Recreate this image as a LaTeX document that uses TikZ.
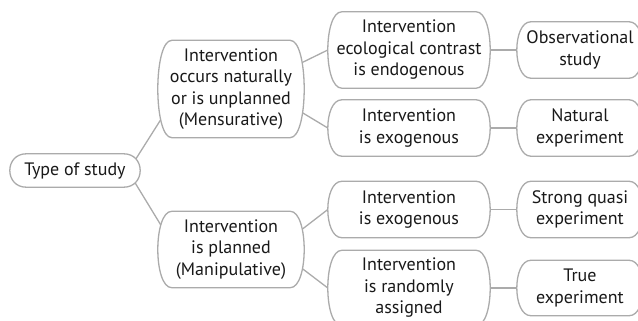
\documentclass[tikz,border=0pt]{standalone}
\usepackage{fontspec}
\setmainfont{PT Sans}
\pgfdeclarelayer{links}
\pgfdeclarelayer{shapes}
\pgfsetlayers{links,shapes,main}
\colorlet{linegray}{black!33}

\begin{document}
\begin{tikzpicture}[x=1pt,y=-1pt,
  box/.style={align=center, inner sep=0pt, text=black!90,
    font=\fontsize{18}{21.5}\selectfont},
  line/.style={draw=linegray, line width=1.3pt},
  link/.style={line, shorten <=-3pt, shorten >=-3pt}]

  \newcommand\roundbox[2]{%
    \draw[line, fill=white] ([xshift=#2]#1.north west) -- ([xshift=-#2]#1.north east)
      .. controls ([xshift=#2/3]#1.north east) and ([xshift=#2/3]#1.south east) .. ([xshift=-#2]#1.south east)
      -- ([xshift=#2]#1.south west)
      .. controls ([xshift=-#2/3]#1.south west) and ([xshift=-#2/3]#1.north west) .. cycle;}

  \clip (0,0) rectangle (638,321);

  \node[box, minimum width=130pt, minimum height=33pt] (type) at (75,170.5) {Type of study};

  \node[box, minimum width=146pt, minimum height=97pt] (mens) at (231,89) {Intervention\\occurs naturally\\or is unplanned\\(Mensurative)};
  \node[box, minimum width=146pt, minimum height=76pt] (manip) at (231,249.5) {Intervention\\is planned\\(Manipulative)};

  \node[box, minimum width=162pt, minimum height=76pt] (endo) at (409,50) {Intervention\\ecological contrast\\is endogenous};
  \node[box, minimum width=162pt, minimum height=56pt] (exoA) at (409,128) {Intervention\\is exogenous};
  \node[box, minimum width=162pt, minimum height=56pt] (exoB) at (409,209.5) {Intervention\\is exogenous};
  \node[box, minimum width=162pt, minimum height=75pt] (random) at (409,288) {Intervention\\is randomly\\assigned};

  \node[box, minimum width=126pt, minimum height=56pt] (obs) at (580,50) {Observational\\study};
  \node[box, minimum width=126pt, minimum height=56pt] (natural) at (580,128) {Natural\\experiment};
  \node[box, minimum width=126pt, minimum height=56pt] (quasi) at (580,209.5) {Strong quasi\\experiment};
  \node[box, minimum width=126pt, minimum height=55pt] (true) at (580,288) {True\\experiment};

  \begin{pgfonlayer}{shapes}
    \roundbox{type}{16.5pt}
    \roundbox{mens}{14pt}
    \roundbox{manip}{14pt}
    \roundbox{endo}{14pt}
    \roundbox{exoA}{14pt}
    \roundbox{exoB}{14pt}
    \roundbox{random}{14pt}
    \roundbox{obs}{14pt}
    \roundbox{natural}{14pt}
    \roundbox{quasi}{14pt}
    \roundbox{true}{14pt}
  \end{pgfonlayer}

  \begin{pgfonlayer}{links}
    \draw[link] ([shift={(-5pt,10.5pt)}]type.east) -- ([shift={(4pt,-29pt)}]mens.west);
    \draw[link] ([shift={(-5pt,-12.5pt)}]type.east) -- ([shift={(3pt,24.5pt)}]manip.west);

    \draw[link] ([shift={(-3pt,26pt)}]mens.east) -- (endo.west);
    \draw[link] ([shift={(-3pt,-23pt)}]mens.east) -- (exoA.west);
    \draw[link] ([shift={(-3pt,19.5pt)}]manip.east) -- (exoB.west);
    \draw[link] ([shift={(-4pt,-17.5pt)}]manip.east) -- (random.west);

    \draw[line] (endo.east) -- (obs.west);
    \draw[line] (exoA.east) -- (natural.west);
    \draw[line] (exoB.east) -- (quasi.west);
    \draw[line] (random.east) -- (true.west);
  \end{pgfonlayer}

\end{tikzpicture}
\end{document}
